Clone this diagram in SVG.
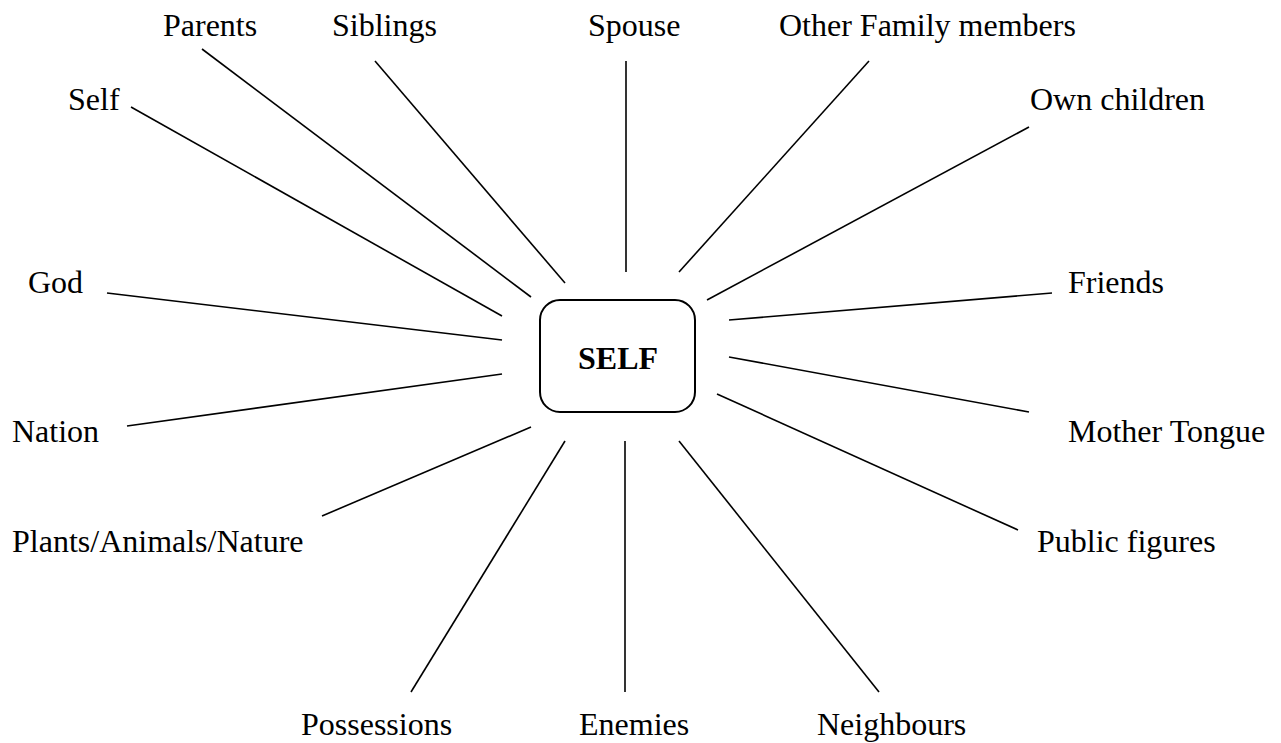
<svg xmlns="http://www.w3.org/2000/svg" width="1281" height="743" viewBox="0 0 1281 743">
<style>
text{font-family:"Liberation Serif","Times New Roman",serif;font-size:32px;fill:#000}
.c line{stroke:#000;stroke-width:1.6;stroke-linecap:butt}
.box{fill:#fff;stroke:#000;stroke-width:2}
.b{font-weight:bold}
</style>
<rect width="1281" height="743" fill="#fff"/>
<g id="connectors" class="c">
<line x1="131" y1="107" x2="502" y2="316"/>
<line x1="202" y1="49" x2="531" y2="297"/>
<line x1="375" y1="61" x2="565" y2="283"/>
<line x1="626" y1="61" x2="626" y2="272"/>
<line x1="869" y1="61" x2="679" y2="272"/>
<line x1="1029" y1="127" x2="707" y2="300"/>
<line x1="1052" y1="293" x2="729" y2="320"/>
<line x1="1029" y1="412" x2="729" y2="357"/>
<line x1="1018" y1="530" x2="717" y2="394"/>
<line x1="879" y1="692" x2="679" y2="441"/>
<line x1="625" y1="692" x2="625" y2="441"/>
<line x1="411" y1="692" x2="565" y2="441"/>
<line x1="322" y1="516" x2="531" y2="427"/>
<line x1="127" y1="426" x2="502" y2="374"/>
<line x1="107" y1="293" x2="502" y2="340"/>
</g>
<g id="node-center">
<rect class="box" x="540" y="300" width="155" height="112" rx="20" ry="20"/>
<text class="b" x="618" y="369" text-anchor="middle">SELF</text>
</g>
<g id="node-self"><text x="68" y="110">Self</text></g>
<g id="node-parents"><text x="163" y="36">Parents</text></g>
<g id="node-siblings"><text x="332" y="36">Siblings</text></g>
<g id="node-spouse"><text x="588" y="36">Spouse</text></g>
<g id="node-other-family"><text x="779" y="36">Other Family members</text></g>
<g id="node-own-children"><text x="1030" y="110">Own children</text></g>
<g id="node-god"><text x="28" y="293">God</text></g>
<g id="node-friends"><text x="1068" y="293">Friends</text></g>
<g id="node-nation"><text x="12" y="442">Nation</text></g>
<g id="node-mother-tongue"><text x="1068" y="442">Mother Tongue</text></g>
<g id="node-plants"><text x="12" y="552">Plants/Animals/Nature</text></g>
<g id="node-public"><text x="1037" y="552">Public figures</text></g>
<g id="node-possessions"><text x="301" y="735">Possessions</text></g>
<g id="node-enemies"><text x="579" y="735">Enemies</text></g>
<g id="node-neighbours"><text x="817" y="735">Neighbours</text></g>
</svg>
